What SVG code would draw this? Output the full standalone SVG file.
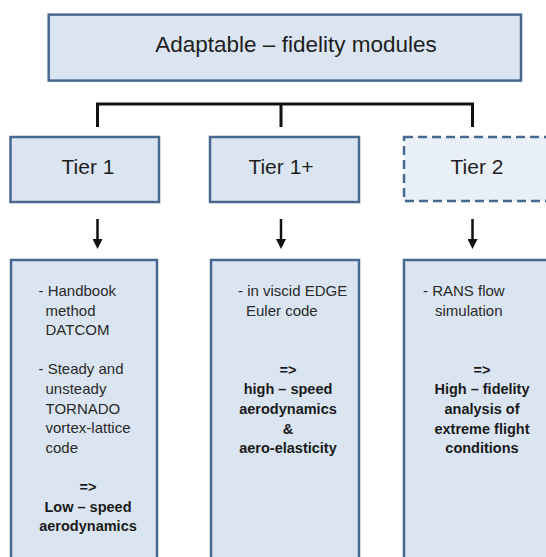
<svg xmlns="http://www.w3.org/2000/svg" width="546" height="557" viewBox="0 0 546 557">
  <defs>
    <marker id="arrowhead" viewBox="0 0 10 10" refX="3" refY="5" markerWidth="10" markerHeight="10" markerUnits="userSpaceOnUse" orient="auto">
      <path d="M0,0 L10,5 L0,10 z" fill="#111"/>
    </marker>
    <style>
      .box { fill: #dbe5f1; stroke: #48688f; stroke-width: 2.5; }
      .box-dashed { fill: #e9eff7; stroke: #48688f; stroke-width: 2.5; stroke-dasharray: 9 5; }
      .title { font-family: "Liberation Sans", Arial, sans-serif; font-size: 22.5px; fill: #1e1e1e; text-anchor: middle; }
      .tier { font-family: "Liberation Sans", Arial, sans-serif; font-size: 21px; fill: #1e1e1e; text-anchor: middle; }
      .body { font-family: "Liberation Sans", Arial, sans-serif; font-size: 15px; fill: #2a2a2a; }
      .bold { font-family: "Liberation Sans", Arial, sans-serif; font-size: 14.5px; font-weight: bold; fill: #1a1a1a; text-anchor: middle; }
      .bracket { fill: none; stroke: #111; stroke-width: 3; }
      .arrow { fill: none; stroke: #111; stroke-width: 2.5; marker-end: url(#arrowhead); }
    </style>
  </defs>

  <!-- Top-level module box -->
  <g id="node-modules">
    <rect class="box" x="48.7" y="14.6" width="472.3" height="66"/>
    <text class="title" x="296" y="52.3">Adaptable – fidelity modules</text>
  </g>

  <!-- Tier headers -->
  <g id="node-tier1">
    <rect class="box" x="10.5" y="137" width="148.5" height="65"/>
    <text class="tier" x="88" y="174">Tier 1</text>
  </g>
  <g id="node-tier1plus">
    <rect class="box" x="210" y="137" width="149" height="65"/>
    <text class="tier" x="281" y="174">Tier 1+</text>
  </g>
  <g id="node-tier2">
    <rect class="box-dashed" x="404" y="137" width="148" height="64"/>
    <text class="tier" x="477" y="174">Tier 2</text>
  </g>

  <!-- Tier 1 detail -->
  <g id="node-tier1-detail">
    <rect class="box" x="11" y="260" width="146" height="320"/>
    <text class="body" x="38.5" y="296">- Handbook</text>
    <text class="body" x="45.5" y="315.6">method</text>
    <text class="body" x="45.5" y="335.2">DATCOM</text>
    <text class="body" x="38.5" y="374.4">- Steady and</text>
    <text class="body" x="45.5" y="394">unsteady</text>
    <text class="body" x="45.5" y="413.6">TORNADO</text>
    <text class="body" x="45.5" y="433.2">vortex-lattice</text>
    <text class="body" x="45.5" y="452.8">code</text>
    <text class="bold" x="88" y="492">=&gt;</text>
    <text class="bold" x="88" y="511.6">Low – speed</text>
    <text class="bold" x="88" y="531.2">aerodynamics</text>
  </g>

  <!-- Tier 1+ detail -->
  <g id="node-tier1plus-detail">
    <rect class="box" x="211" y="260" width="148" height="320"/>
    <text class="body" x="238" y="296">- in viscid EDGE</text>
    <text class="body" x="246" y="315.6">Euler code</text>
    <text class="bold" x="288" y="374.8">=&gt;</text>
    <text class="bold" x="288" y="394.4">high – speed</text>
    <text class="bold" x="288" y="414">aerodynamics</text>
    <text class="bold" x="288" y="433.6">&amp;</text>
    <text class="bold" x="288" y="453.2">aero-elasticity</text>
  </g>

  <!-- Tier 2 detail -->
  <g id="node-tier2-detail">
    <rect class="box" x="404" y="260" width="148" height="320"/>
    <text class="body" x="423" y="296">- RANS flow</text>
    <text class="body" x="435" y="315.6">simulation</text>
    <text class="bold" x="482" y="374.8">=&gt;</text>
    <text class="bold" x="482" y="394.4">High – fidelity</text>
    <text class="bold" x="482" y="414">analysis of</text>
    <text class="bold" x="482" y="433.6">extreme flight</text>
    <text class="bold" x="482" y="453.2">conditions</text>
  </g>

  <!-- Connectors -->
  <g id="connectors">
    <path class="bracket" d="M97.5,127 V104 H472.5 V127 M281,104 V127"/>
    <path class="arrow" d="M97.5,219 V242"/>
    <path class="arrow" d="M281,219 V242"/>
    <path class="arrow" d="M472.5,219 V242"/>
  </g>
</svg>
